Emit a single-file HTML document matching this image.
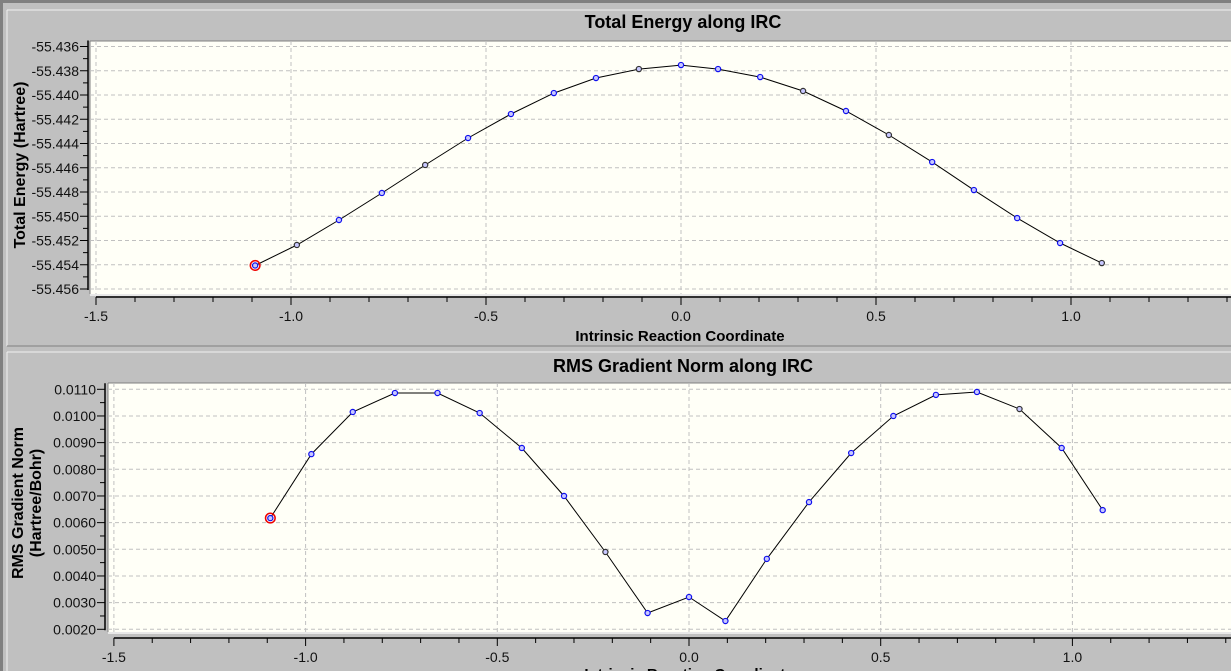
<!DOCTYPE html>
<html><head><meta charset="utf-8"><style>
body{margin:0;background:#c0c0c0;width:1231px;height:671px;overflow:hidden;font-family:"Liberation Sans",sans-serif}
svg{display:block}
</style></head><body>
<svg width="1231" height="671" xmlns="http://www.w3.org/2000/svg" font-family="Liberation Sans, sans-serif">
<rect x="0" y="0" width="1231" height="671" fill="#c0c0c0"/>
<rect x="0" y="0" width="1231" height="3" fill="#808080"/>
<rect x="0" y="0" width="3" height="671" fill="#808080"/>
<line x1="7" y1="10" x2="1231" y2="10" stroke="#f0f0f0"/>
<line x1="7" y1="10" x2="7" y2="346" stroke="#f0f0f0"/>
<line x1="7" y1="346" x2="1231" y2="346" stroke="#808080"/>
<line x1="7" y1="352" x2="1231" y2="352" stroke="#f0f0f0"/>
<line x1="7" y1="352" x2="7" y2="671" stroke="#f0f0f0"/>
<g id="topChart"></g><g id="botChart"></g>
</svg>
<script>
const xs=[-1.092,-0.985,-0.877,-0.767,-0.656,-0.546,-0.436,-0.326,-0.218,-0.108,0,0.095,0.203,0.313,0.423,0.533,0.644,0.751,0.862,0.972,1.079];
const energy=[-55.45406,-55.45237,-55.45031,-55.44808,-55.44577,-55.44355,-55.44157,-55.43984,-55.4386,-55.43786,-55.43753,-55.43786,-55.43852,-55.43967,-55.44132,-55.4433,-55.44553,-55.44784,-55.45015,-55.45221,-55.45386];
const energyBlack=[1,4,9,13,15,20];
const grad=[0.00617,0.00857,0.01015,0.01086,0.01086,0.01011,0.0088,0.0070,0.0049,0.00261,0.00321,0.00231,0.00464,0.00677,0.00861,0.0100,0.01079,0.0109,0.01026,0.0088,0.00647];
const gradBlack=[8,18];
const xTicks=[-1.5,-1.0,-0.5,0.0,0.5,1.0,1.5];
const eTicks=[-55.436,-55.438,-55.440,-55.442,-55.444,-55.446,-55.448,-55.450,-55.452,-55.454,-55.456];
const gTicks=[0.011,0.010,0.009,0.008,0.007,0.006,0.005,0.004,0.003,0.002];
const NS="http://www.w3.org/2000/svg";
function mk(p,t,a,txt){const e=document.createElementNS(NS,t);for(const k in a)e.setAttribute(k,a[k]);if(txt!==undefined)e.textContent=txt;p.appendChild(e);return e;}
function chart(g,cfg){
 const X=v=>cfg.x0+v*cfg.xsc, Y=v=>cfg.yTop+(cfg.yMax-v)/(cfg.yMax-cfg.yMin)*(cfg.yBot-cfg.yTop);
 const t=mk(g,'text',{x:683,y:cfg.titleY,'text-anchor':'middle','font-size':18,'font-weight':'bold',fill:'#000'},cfg.title);
 
 
 const bg=mk(g,'rect',{x:cfg.px,y:cfg.py,width:1231-cfg.px,height:cfg.ph,fill:'#fffff7'});
 
 
 mk(g,'line',{x1:cfg.px,y1:cfg.py,x2:1231,y2:cfg.py,stroke:'#808080'});
 mk(g,'line',{x1:cfg.px,y1:cfg.py,x2:cfg.px,y2:cfg.py+cfg.ph,stroke:'#808080'});
 mk(g,'line',{x1:cfg.px,y1:cfg.py+cfg.ph+1,x2:1231,y2:cfg.py+cfg.ph+1,stroke:'#e8e8e8','stroke-width':2});
 cfg.yT.forEach(v=>{mk(g,'line',{x1:cfg.px,x2:1231,y1:Y(v),y2:Y(v),stroke:'#c0c0c0','stroke-dasharray':'4,3'});});
 xTicks.forEach(v=>{const x=X(v);if(x<1231)mk(g,'line',{x1:x,x2:x,y1:cfg.py,y2:cfg.py+cfg.ph,stroke:'#c0c0c0','stroke-dasharray':'4,3'});});
 const ya=mk(g,'g',{});
 
 
 mk(ya,'line',{x1:cfg.ax,x2:cfg.ax,y1:Y(cfg.yMax)-6,y2:Y(cfg.yMin)+1,stroke:'#000','stroke-width':1.5});
 const n=cfg.yT.length;
 for(let i=0;i<n;i++){const y=Y(cfg.yT[i]);mk(ya,'line',{x1:cfg.ax-8,x2:cfg.ax,y1:y,y2:y,stroke:'#000'});
  const lb=mk(ya,'text',{x:cfg.ax-9,y:y+5,'text-anchor':'end','font-size':14,fill:'#111'},cfg.fmt(cfg.yT[i]));
  
  
  if(i<n-1){const step=(cfg.yT[i]-cfg.yT[i+1])/cfg.minor;for(let k=1;k<cfg.minor;k++){const yy=Y(cfg.yT[i]-k*step);mk(ya,'line',{x1:cfg.ax-5,x2:cfg.ax,y1:yy,y2:yy,stroke:'#000'});}}}
 const xa=mk(g,'g',{});
 
 
 mk(xa,'line',{x1:X(-1.5),x2:1231,y1:cfg.xay,y2:cfg.xay,stroke:'#000','stroke-width':1.5});
 for(let v=-15;v<=16;v++){const x=X(v/10);if(x>1231)break;const major=v%5===0;mk(xa,'line',{x1:x,x2:x,y1:cfg.xay,y2:cfg.xay+(major?8:5),stroke:'#000'});}
 xTicks.forEach(v=>{const x=X(v);if(x<1225){const lb=mk(xa,'text',{x:x,y:cfg.xay+24,'text-anchor':'middle','font-size':14,fill:'#111'},v.toFixed(1));
  
  }});
 const xt=mk(g,'text',{x:cfg.xtx,y:cfg.xty,'text-anchor':'middle','font-size':15,'font-weight':'bold',fill:'#000'},'Intrinsic Reaction Coordinate');
 
 
 cfg.ytitle.forEach((s,i)=>{const tt=mk(g,'text',{transform:`translate(${cfg.ytx+i*18},${cfg.yty}) rotate(-90)`,'text-anchor':'middle','font-size':16,'font-weight':'bold',fill:'#000'},s);
  
  });
 const pts=xs.map((x,i)=>X(x).toFixed(1)+','+Y(cfg.data[i]).toFixed(1)).join(' ');
 const pl=mk(g,'polyline',{points:pts,fill:'none',stroke:'#000','stroke-width':1});
 
 
 xs.forEach((x,i)=>{const c=mk(g,'circle',{cx:X(x),cy:Y(cfg.data[i]),r:2.6,fill:'#c8c8ff',stroke:cfg.black.includes(i)?'#333':'#1010ee','stroke-width':1.2});
  
  });
 const r=mk(g,'circle',{cx:X(xs[0]),cy:Y(cfg.data[0]),r:4.8,fill:'none',stroke:'#e00','stroke-width':1.5});
 
 
}
const topG=document.getElementById('topChart');


chart(topG,{title:'Total Energy along IRC',titleY:28,px:90,py:41,ph:253,ax:88,x0:681,xsc:390,yTop:46.5,yBot:289,yMax:-55.436,yMin:-55.456,yT:eTicks,minor:2,fmt:v=>v.toFixed(3),xay:297,xtx:680,xty:341,ytitle:['Total Energy (Hartree)'],ytx:25,yty:165,data:energy,black:energyBlack});
const botG=document.getElementById('botChart');


chart(botG,{title:'RMS Gradient Norm along IRC',titleY:372,px:108,py:383,ph:249,ax:105,x0:689,xsc:383.4,yTop:389.3,yBot:629.3,yMax:0.011,yMin:0.002,yT:gTicks,minor:2,fmt:v=>v.toFixed(4),xay:638,xtx:689,xty:679,ytitle:['RMS Gradient Norm','(Hartree/Bohr)'],ytx:23,yty:503,data:grad,black:gradBlack});
</script>
</body></html>
